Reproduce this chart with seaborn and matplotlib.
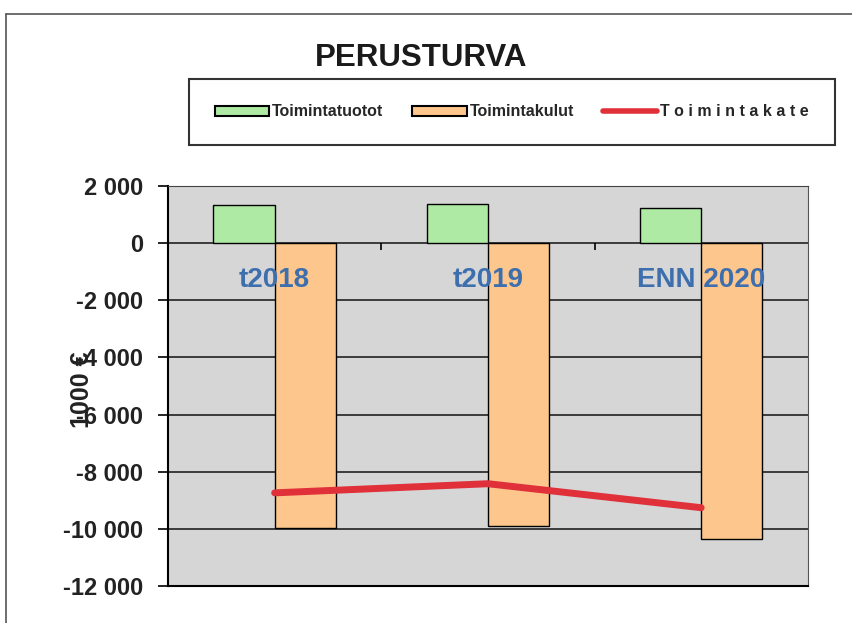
import matplotlib
matplotlib.use("Agg")
import matplotlib.pyplot as plt
from matplotlib.patches import Patch
from matplotlib.lines import Line2D
from matplotlib.ticker import FuncFormatter
import seaborn as sns
import numpy as np
import pandas as pd

# values (1000 €)
categories = ['t2018', 't2019', 'ENN 2020']
tuotot = [1330, 1370, 1230]
kulut = [-9960, -9890, -10350]
kate = [-8740, -8420, -9260]
series_names = ['Toimintatuotot', 'Toimintakulut', 'T o i m i n t a k a t e']
yticks = [2000, 0, -2000, -4000, -6000, -8000, -10000, -12000]

sns.set_style("white")
plt.rcParams['font.family'] = ['Liberation Sans', 'DejaVu Sans']

green = '#aeeaa4'
orange = '#fcc68c'
red = '#e0303a'
blue = '#3d6fae'

df = pd.DataFrame({
    'cat': categories * 2,
    'value': tuotot + kulut,
    'series': [series_names[0]] * 3 + [series_names[1]] * 3,
})

fig = plt.figure(figsize=(8.53, 6.23), dpi=100)
ax = fig.add_axes([0.197, 0.0594, 0.750, 0.642])
ax.set_facecolor('#d6d6d6')

sns.barplot(data=df, x='cat', y='value', hue='series', order=categories,
            hue_order=series_names[:2], palette=[green, orange], saturation=1,
            width=0.574, edgecolor='black', linewidth=1.0, ax=ax,
            legend=False, zorder=3)
sns.lineplot(x=np.arange(len(categories)), y=kate, color=red, linewidth=5,
             ax=ax, zorder=4)

ax.set_xlim(-0.5, len(categories) - 0.5)
ax.set_ylim(-12000, 2000)
ax.set_yticks(yticks)
ax.yaxis.set_major_formatter(FuncFormatter(lambda v, p: f"{int(v):,}".replace(",", " ")))
ax.tick_params(axis='y', length=7, width=1.2, direction='out', colors='black',
               labelsize=17, pad=11, left=True)
for lab in ax.get_yticklabels():
    lab.set_fontweight('bold')
    lab.set_color('#222222')
ax.set_xticks([])
ax.set_xlabel('')
ax.set_ylabel('')
ax.yaxis.grid(True, color='#111111', linewidth=1.1, zorder=1)
ax.set_axisbelow(True)

# small marks between categories on the zero line
ax.vlines(np.arange(len(categories) - 1) + 0.5, 0, -250, color='black', linewidth=1.2, zorder=2)

# category labels sit inside the plot, below the zero line
for i, c in enumerate(categories):
    ax.text(i, -1300, c, ha='center', va='center', fontsize=20, fontweight='bold',
            color=blue, zorder=5)

for side in ['left', 'bottom']:
    ax.spines[side].set_color('black')
    ax.spines[side].set_linewidth(1.5)
ax.spines['top'].set_color('#444444')
ax.spines['top'].set_linestyle((0, (3, 1)))
ax.spines['right'].set_color('#555555')

fig.text(82 / 853, 1 - 390 / 623, '1000 €', rotation=90, ha='center', va='center',
         fontsize=18, fontweight='bold', color='#222222')

fig.text(421 / 853, 1 - 58 / 623, 'PERUSTURVA', ha='center', va='center',
         fontsize=22.5, fontweight='bold', color='#1a1a1a')

handles = [
    Patch(facecolor=green, edgecolor='black', linewidth=1.5),
    Patch(facecolor=orange, edgecolor='black', linewidth=1.5),
    Line2D([0], [0], color=red, linewidth=4),
]
leg = fig.legend(handles, series_names, loc='center', ncol=3,
                 bbox_to_anchor=(512 / 853, 1 - 112 / 623),
                 prop={'weight': 'bold', 'size': 11.5},
                 handlelength=3.4, handleheight=0.55, handletextpad=0.2,
                 columnspacing=1.8, frameon=True, fancybox=False,
                 borderpad=1.6, edgecolor='black')
leg.get_frame().set_linewidth(1.5)

# scanned page frame
fig.add_artist(Line2D([6 / 853, 6 / 853], [0, 1 - 14 / 623], transform=fig.transFigure,
                      color='#555555', linewidth=1.2))
fig.add_artist(Line2D([6 / 853, 1], [1 - 14 / 623, 1 - 14 / 623], transform=fig.transFigure,
                      color='#555555', linewidth=1.2))

fig.savefig('out.png', dpi=100)
